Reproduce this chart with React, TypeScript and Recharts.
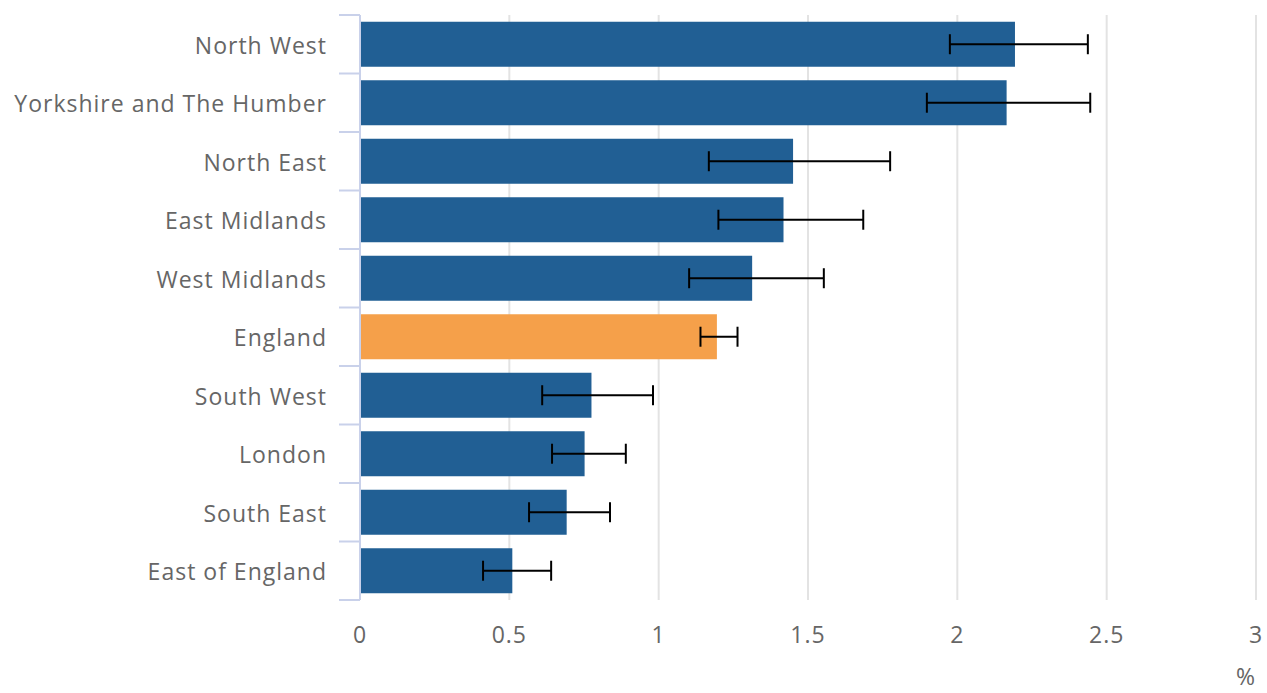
import { BarChart, Bar, XAxis, YAxis, CartesianGrid, ErrorBar, Cell, Label } from 'recharts';

const regions = [
  'North West',
  'Yorkshire and The Humber',
  'North East',
  'East Midlands',
  'West Midlands',
  'England',
  'South West',
  'London',
  'South East',
  'East of England',
];
const rates = [2.193, 2.165, 1.45, 1.418, 1.313, 1.195, 0.775, 0.752, 0.692, 0.51];
const lower = [1.975, 1.898, 1.168, 1.2, 1.102, 1.14, 0.61, 0.643, 0.566, 0.412];
const upper = [2.437, 2.445, 1.775, 1.685, 1.553, 1.264, 0.981, 0.89, 0.837, 0.64];
const xTicks = [0, 0.5, 1, 1.5, 2, 2.5, 3];

const BLUE = '#215f94';
const ORANGE = '#f5a04a';
const TEXT = '#666666';
const AXIS = '#c9d1ea';
const FONT = '"Open Sans", sans-serif';

const data = regions.map((name, i) => ({
  name,
  rate: rates[i],
  ci: [rates[i] - lower[i], upper[i] - rates[i]],
}));

const RegionTick = (props: any) => {
  const { x, y, payload, index, visibleTicksCount } = props;
  const half = payload.offset || 29;
  const last = index === visibleTicksCount - 1;
  return (
    <g>
      <line x1={x - 21} x2={x} y1={y - half} y2={y - half} stroke={AXIS} strokeWidth={2} />
      {last && <line x1={x - 21} x2={x} y1={y + half} y2={y + half} stroke={AXIS} strokeWidth={2} />}
      <text
        x={x - 33}
        y={y + 1.5}
        dy="0.35em"
        textAnchor="end"
        fill={TEXT}
        fontSize={23}
        letterSpacing={1}
        fontFamily={FONT}
      >
        {payload.value}
      </text>
    </g>
  );
};

const PercentLabel = (props: any) => {
  const { viewBox } = props;
  return (
    <text
      x={viewBox.x + viewBox.width - 1}
      y={viewBox.y + viewBox.height - 8}
      textAnchor="end"
      fill={TEXT}
      fontSize={23}
      fontFamily={FONT}
    >
      %
    </text>
  );
};

export default function App() {
  return (
    <div style={{ position: 'absolute', left: 0, top: 0 }}>
      <BarChart
        width={1267}
        height={693}
        data={data}
        layout="vertical"
        margin={{ top: 15, right: 11, bottom: 0, left: 0 }}
        barCategoryGap="11.5%"
      >
        <CartesianGrid horizontal={false} stroke="#e3e3e3" strokeWidth={2} />
        <XAxis
          type="number"
          domain={[0, 3]}
          ticks={xTicks}
          height={93}
          axisLine={false}
          tickLine={false}
          tickSize={0}
          tickMargin={27}
          tick={{ fill: TEXT, fontSize: 23, fontFamily: FONT, letterSpacing: 1 }}
        >
          <Label content={<PercentLabel />} />
        </XAxis>
        <YAxis
          type="category"
          dataKey="name"
          width={360}
          axisLine={{ stroke: AXIS, strokeWidth: 2 }}
          tickLine={false}
          tickSize={0}
          tickMargin={0}
          interval={0}
          tick={<RegionTick />}
        />
        <Bar dataKey="rate" fill={BLUE} isAnimationActive={false}>
          {data.map((d) => (
            <Cell key={d.name} fill={d.name === 'England' ? ORANGE : BLUE} />
          ))}
          <ErrorBar dataKey="ci" direction="x" width={10} stroke="#000000" strokeWidth={2} />
        </Bar>
      </BarChart>
    </div>
  );
}
